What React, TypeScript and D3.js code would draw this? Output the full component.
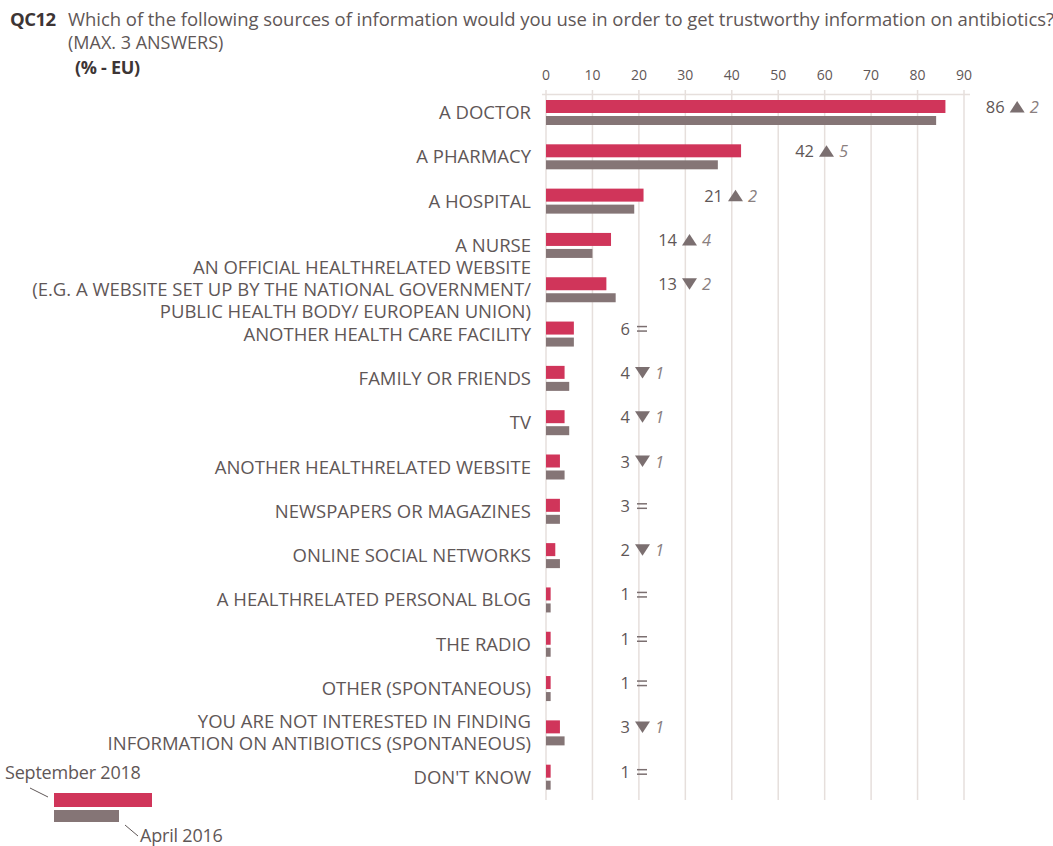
import React from "react";
import * as d3 from "d3";

const categories: string[][] = [
  ["A DOCTOR"],
  ["A PHARMACY"],
  ["A HOSPITAL"],
  ["A NURSE"],
  ["AN OFFICIAL HEALTHRELATED WEBSITE", "(E.G. A WEBSITE SET UP BY THE NATIONAL GOVERNMENT/", "PUBLIC HEALTH BODY/ EUROPEAN UNION)"],
  ["ANOTHER HEALTH CARE FACILITY"],
  ["FAMILY OR FRIENDS"],
  ["TV"],
  ["ANOTHER HEALTHRELATED WEBSITE"],
  ["NEWSPAPERS OR MAGAZINES"],
  ["ONLINE SOCIAL NETWORKS"],
  ["A HEALTHRELATED PERSONAL BLOG"],
  ["THE RADIO"],
  ["OTHER (SPONTANEOUS)"],
  ["YOU ARE NOT INTERESTED IN FINDING", "INFORMATION ON ANTIBIOTICS (SPONTANEOUS)"],
  ["DON'T KNOW"],
];
const sep2018: number[] = [86, 42, 21, 14, 13, 6, 4, 4, 3, 3, 2, 1, 1, 1, 3, 1];
const apr2016: number[] = [84, 37, 19, 10, 15, 6, 5, 5, 4, 3, 3, 1, 1, 1, 4, 1];
const changeDir: string[] = ["up", "up", "up", "up", "down", "eq", "down", "down", "down", "eq", "down", "eq", "eq", "eq", "down", "eq"];
const changeVal: number[] = [2, 5, 2, 4, 2, 0, 1, 1, 1, 0, 1, 0, 0, 0, 1, 0];
const ticks: number[] = [0, 10, 20, 30, 40, 50, 60, 70, 80, 90];
const seriesNames: string[] = ["September 2018", "April 2016"];

const RED = "#d0355a";
const GREY = "#857576";
const TXT = "#5f5757";
const GRID = "#e6dfdc";
const FONT = "'Open Sans', 'Noto Sans', sans-serif";

export default function App() {
  const x = d3.scaleLinear().domain([0, 90]).range([546, 964]);
  const labelScale = d3.scaleLinear().domain([0, 90]).range([632, 1022]);
  const labelRightFor = (v: number) => (v >= 20 ? labelScale(v) : v >= 10 ? 677 : 630);
  const rows = d3.range(categories.length);
  const y = d3.scaleBand<number>().domain(rows).range([95, 804]).paddingInner(0).paddingOuter(0);
  const redH = 13;
  const greyH = 9;
  const rowTop = (i: number) => (y(i) as number) + 5;

  return (
    <svg width={1053} height={846} style={{ position: "absolute", left: 0, top: 0, background: "#fff" }} fontFamily={FONT}>
      {/* Title */}
      <text x={10} y={26} fontSize={18.5} fontWeight={700} fill="#3d3535" letterSpacing={-0.5}>QC12</text>
      <text x={68} y={26} fontSize={18.5} fill={TXT} letterSpacing={-0.05}>Which of the following sources of information would you use in order to get trustworthy information on antibiotics?</text>
      <text x={68} y={49} fontSize={18} fill={TXT}>(MAX. 3 ANSWERS)</text>
      <text x={75} y={74} fontSize={18} fontWeight={700} fill="#3d3535" letterSpacing={-0.3}>(% - EU)</text>

      {/* Grid */}
      {ticks.map((t) => (
        <g key={t}>
          <line x1={x(t)} x2={x(t)} y1={90} y2={800} stroke={GRID} strokeWidth={1.5} />
          <text x={x(t)} y={80} fontSize={14} fill={TXT} textAnchor="middle">{t}</text>
        </g>
      ))}
      <line x1={x(0) - 4} x2={x(90) + 6} y1={94.5} y2={94.5} stroke={GRID} strokeWidth={1.5} />

      {/* Bars */}
      {rows.map((i) => {
        const top = rowTop(i);
        const cy = top + redH / 2;
        const rowMid = top + (redH + 3 + greyH) / 2;
        const lines = categories[i];
        const lh = 22;
        const v = sep2018[i];
        const labelRight = labelRightFor(v);
        const tx = labelRight + 5;
        const dir = changeDir[i];
        return (
          <g key={i}>
            <rect x={x(0)} y={top} width={x(sep2018[i]) - x(0)} height={redH} fill={RED} />
            <rect x={x(0)} y={top + redH + 3} width={x(apr2016[i]) - x(0)} height={greyH} fill={GREY} />
            {lines.map((l, k) => (
              <text key={k} x={531} y={rowMid + (k - (lines.length - 1) / 2) * lh + 6.5} fontSize={18.5} fill={TXT} textAnchor="end">{l}</text>
            ))}
            <text x={labelRight} y={cy + 6.5} fontSize={16.5} fill={TXT} textAnchor="end">{v}</text>
            {dir === "up" && (
              <path d={`M${tx},${cy + 6} L${tx + 15},${cy + 6} L${tx + 7.5},${cy - 5.5} Z`} fill="#7b6f70" />
            )}
            {dir === "down" && (
              <path d={`M${tx},${cy - 5.5} L${tx + 15},${cy - 5.5} L${tx + 7.5},${cy + 6} Z`} fill="#7b6f70" />
            )}
            {dir === "eq" && (
              <g stroke="#7b6f70" strokeWidth={1.5}>
                <line x1={tx + 2} x2={tx + 12} y1={cy - 1.5} y2={cy - 1.5} />
                <line x1={tx + 2} x2={tx + 12} y1={cy + 3} y2={cy + 3} />
              </g>
            )}
            {dir !== "eq" && (
              <text x={tx + 20} y={cy + 6.5} fontSize={16.5} fontStyle="italic" fill="#8a8080">{changeVal[i]}</text>
            )}
          </g>
        );
      })}

      {/* Legend */}
      <text x={5} y={779} fontSize={18} fill={TXT} letterSpacing={-0.2}>{seriesNames[0]}</text>
      <line x1={30} y1={788} x2={48} y2={797} stroke={TXT} strokeWidth={1} />
      <rect x={54} y={793} width={98} height={14} fill={RED} />
      <rect x={54} y={810} width={65} height={12} fill={GREY} />
      <line x1={125} y1={825} x2={138} y2={836} stroke={TXT} strokeWidth={1} />
      <text x={140} y={842} fontSize={18} fill={TXT} letterSpacing={-0.2}>{seriesNames[1]}</text>
    </svg>
  );
}
